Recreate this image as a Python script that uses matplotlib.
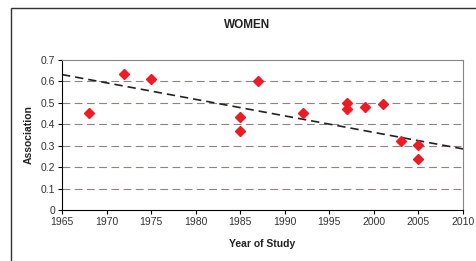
import matplotlib.pyplot as plt
from matplotlib.patches import Rectangle

# data
years = [1968, 1972, 1975, 1985, 1985, 1987, 1992, 1997, 1997, 1999, 2001, 2003, 2005, 2005]
assoc = [0.451, 0.635, 0.611, 0.435, 0.370, 0.600, 0.451, 0.498, 0.470, 0.482, 0.496, 0.322, 0.305, 0.240]
trend_years = [1965, 2010]
trend_vals = [0.632, 0.285]
xticks = list(range(1965, 2011, 5))
yticks = [0, 0.1, 0.2, 0.3, 0.4, 0.5, 0.6, 0.7]

plt.rcParams['font.family'] = ['Liberation Sans', 'DejaVu Sans']

fig = plt.figure(figsize=(4.77, 2.61), dpi=100)
ax = fig.add_axes([62/477, 1 - 210/261, (463-62)/477, 150/261])

# chart area border (only left and top visible)
fig.patches.append(Rectangle((11/477, -0.1), 1.2, 1 - 8/261 + 0.1, transform=fig.transFigure,
                             fill=False, edgecolor='#333333', linewidth=1.0))

for y in yticks[1:-1]:
    ax.axhline(y, color='#8c8480', linestyle=(0, (7, 4)), linewidth=0.8, zorder=1)

ax.plot(trend_years, trend_vals, color='#222222', linestyle=(0, (5, 3)), linewidth=1.2, zorder=2)
ax.plot(years, assoc, linestyle='none', marker='D', markersize=5.5, color='#ED1C24',
        markeredgecolor='#ED1C24', zorder=3)

ax.set_xlim(1965, 2010)
ax.set_ylim(0, 0.7)
ax.set_xticks(xticks)
ax.set_yticks(yticks)
ax.set_yticklabels(['0', '0.1', '0.2', '0.3', '0.4', '0.5', '0.6', '0.7'])
ax.tick_params(labelsize=7.5, length=3, width=0.8, colors='#000000', labelcolor='#333333', pad=2)

for s in ['top', 'right']:
    ax.spines[s].set_color('#8c8480')
    ax.spines[s].set_linewidth(0.8)
for s in ['left', 'bottom']:
    ax.spines[s].set_color('#000000')
    ax.spines[s].set_linewidth(0.8)

ax.set_xlabel('Year of Study', fontsize=7.5, fontweight='bold', color='#222222', labelpad=9)
ax.set_ylabel('Association', fontsize=7.5, fontweight='bold', color='#222222', labelpad=5)
fig.text(247/477, 1 - 25/261, 'WOMEN', fontsize=8.5, fontweight='bold', color='#222222',
         ha='center', va='center')

fig.savefig('out.png', dpi=100)
